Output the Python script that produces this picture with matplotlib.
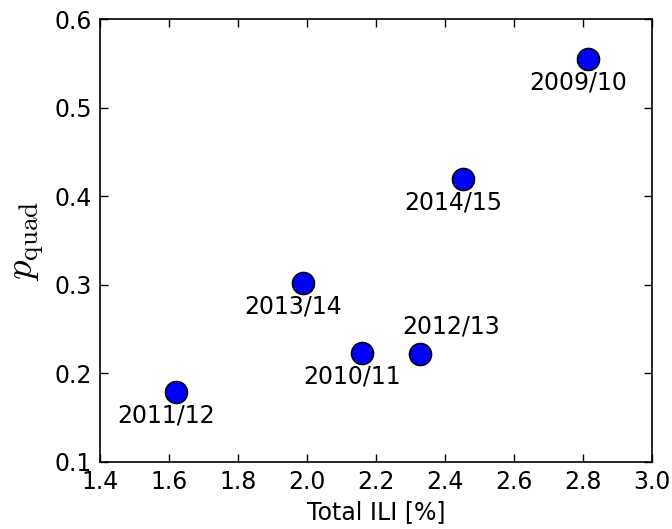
import matplotlib
matplotlib.use("Agg")
import matplotlib.pyplot as plt

plt.rcParams["mathtext.fontset"] = "cm"
plt.rcParams["font.size"] = 17

# season, total ILI [%], p_quad
seasons = ["2009/10", "2010/11", "2011/12", "2012/13", "2013/14", "2014/15"]
total_ili = [2.815, 2.159, 1.620, 2.328, 1.988, 2.452]
p_quad = [0.555, 0.223, 0.179, 0.222, 0.302, 0.419]
# label offsets in points (text centre relative to the marker)
label_offsets = {"2012/13": (22, 20)}
default_offset = (-7, -17)

fig = plt.figure(figsize=(6.72, 5.29), dpi=100)
ax = fig.add_axes([0.149, 0.127, 0.821, 0.837])

ax.scatter(total_ili, p_quad, s=250, c="blue", edgecolors="black",
           linewidths=1.2, zorder=3)
for name, x, y in zip(seasons, total_ili, p_quad):
    ax.annotate(name, (x, y), xytext=label_offsets.get(name, default_offset),
                textcoords="offset points", ha="center", va="center",
                fontsize=17)

ax.set_xlim(1.4, 3.0)
ax.set_ylim(0.1, 0.6)
ax.set_xticks([1.4, 1.6, 1.8, 2.0, 2.2, 2.4, 2.6, 2.8, 3.0])
ax.set_yticks([0.1, 0.2, 0.3, 0.4, 0.5, 0.6])
ax.tick_params(direction="in", top=True, right=True, length=6, width=1,
               labelsize=17, pad=6)
for sp in ax.spines.values():
    sp.set_linewidth(1.2)

ax.set_xlabel("Total ILI [%]", fontsize=17, labelpad=4)
ax.set_ylabel(r"$p_{\rm quad}$", fontsize=28, labelpad=6)

fig.savefig("out.png", dpi=100)
